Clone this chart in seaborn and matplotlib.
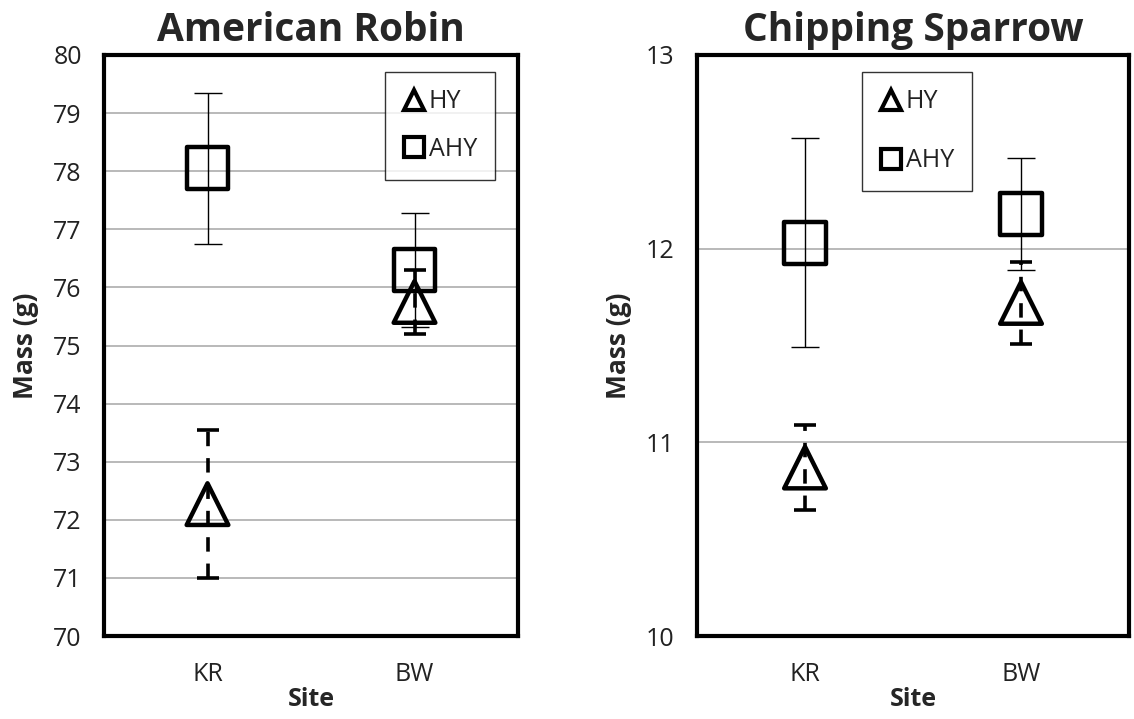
import numpy as np
import pandas as pd
import seaborn as sns
import matplotlib.pyplot as plt

sites = ["KR", "BW"]
groups = ["HY", "AHY"]

robin_hy_mean = [72.27, 75.75]
robin_hy_err = [1.28, 0.55]
robin_ahy_mean = [78.05, 76.30]
robin_ahy_err = [1.30, 0.98]

sparrow_hy_mean = [10.87, 11.72]
sparrow_hy_err = [0.22, 0.21]
sparrow_ahy_mean = [12.03, 12.18]
sparrow_ahy_err = [0.54, 0.29]

robin_ticks = list(range(70, 81))
sparrow_ticks = [10, 11, 12, 13]

sns.set_style("white")
plt.rcParams['font.family'] = ['Open Sans', 'DejaVu Sans']

markers = {"HY": "^", "AHY": "s"}


def make_df(hy_m, hy_e, ahy_m, ahy_e):
    rows = []
    for i, s in enumerate(sites):
        rows.append(dict(site=s, pos=i, group="HY", mass=hy_m[i], err=hy_e[i]))
        rows.append(dict(site=s, pos=i, group="AHY", mass=ahy_m[i], err=ahy_e[i]))
    return pd.DataFrame(rows)


def draw(ax, df, title, ticks, grid_ticks, legend_anchor, spacing):
    ax.set_xlim(-0.5, 1.5)
    ax.set_ylim(ticks[0], ticks[-1])
    for g in grid_ticks:
        ax.axhline(g, color="#a6a6a6", lw=1.1, zorder=0)

    for grp in ["AHY", "HY"]:
        sub = df[df.group == grp]
        if grp == "HY":
            eb = ax.errorbar(sub.pos, sub.mass, yerr=sub.err, fmt="none",
                             ecolor="black", elinewidth=2.6, capsize=8,
                             capthick=2.6, zorder=3)
            eb[2][0].set_linestyle((0, (4, 3.3)))
        else:
            ax.errorbar(sub.pos, sub.mass, yerr=sub.err, fmt="none",
                        ecolor="black", elinewidth=1.0, capsize=10,
                        capthick=1.0, zorder=3)

    # hollow markers drawn through seaborn
    sns.scatterplot(data=df, x="pos", y="mass", style="group",
                    markers=markers, style_order=["AHY", "HY"],
                    s=900, facecolor="none", edgecolor="black",
                    linewidth=3.2, zorder=4, legend=False, ax=ax)

    leg_h = []
    for grp in ["HY", "AHY"]:
        h = plt.Line2D([], [], linestyle="none", marker=markers[grp],
                       markersize=14, markerfacecolor="none",
                       markeredgecolor="black", markeredgewidth=3)
        leg_h.append(h)
    leg = ax.legend(leg_h, ["HY", "AHY"], loc="upper left",
                    bbox_to_anchor=legend_anchor, frameon=True, fancybox=False,
                    edgecolor="black", fontsize=18, handlelength=0.9,
                    handletextpad=0.15, labelspacing=spacing, borderpad=0.7,
                    borderaxespad=0)
    leg.get_frame().set_linewidth(1.0)
    for t in leg.get_texts():
        t.set_color("#222222")

    ax.set_xticks([0, 1])
    ax.set_xticklabels(sites)
    ax.set_yticks(ticks)
    ax.tick_params(axis="y", length=0, labelsize=18, colors="#222222", pad=16)
    ax.tick_params(axis="x", length=0, labelsize=18, colors="#222222", pad=19)
    ax.set_xlabel("Site", fontsize=18, fontweight="bold", labelpad=0)
    ax.set_ylabel("Mass (g)", fontsize=19, fontweight="bold", labelpad=10)
    ax.set_title(title, fontsize=28, fontweight="bold", pad=10)
    for sp in ax.spines.values():
        sp.set_visible(True)
        sp.set_color("black")
        sp.set_linewidth(3)


fig = plt.figure(figsize=(11.34, 7.19), dpi=100)
ax1 = fig.add_axes([104 / 1134, 1 - 636 / 719, 414 / 1134, 581 / 719])
ax2 = fig.add_axes([697 / 1134, 1 - 636 / 719, 432 / 1134, 581 / 719])

robin = make_df(robin_hy_mean, robin_hy_err, robin_ahy_mean, robin_ahy_err)
sparrow = make_df(sparrow_hy_mean, sparrow_hy_err, sparrow_ahy_mean, sparrow_ahy_err)

draw(ax1, robin, "American Robin", robin_ticks, robin_ticks[1:-1],
     (281 / 414, 1 - 17 / 581), 0.9)
draw(ax2, sparrow, "Chipping Sparrow", sparrow_ticks, sparrow_ticks[1:-1],
     (165 / 432, 1 - 17 / 581), 1.35)

fig.savefig("out.png", dpi=100)
